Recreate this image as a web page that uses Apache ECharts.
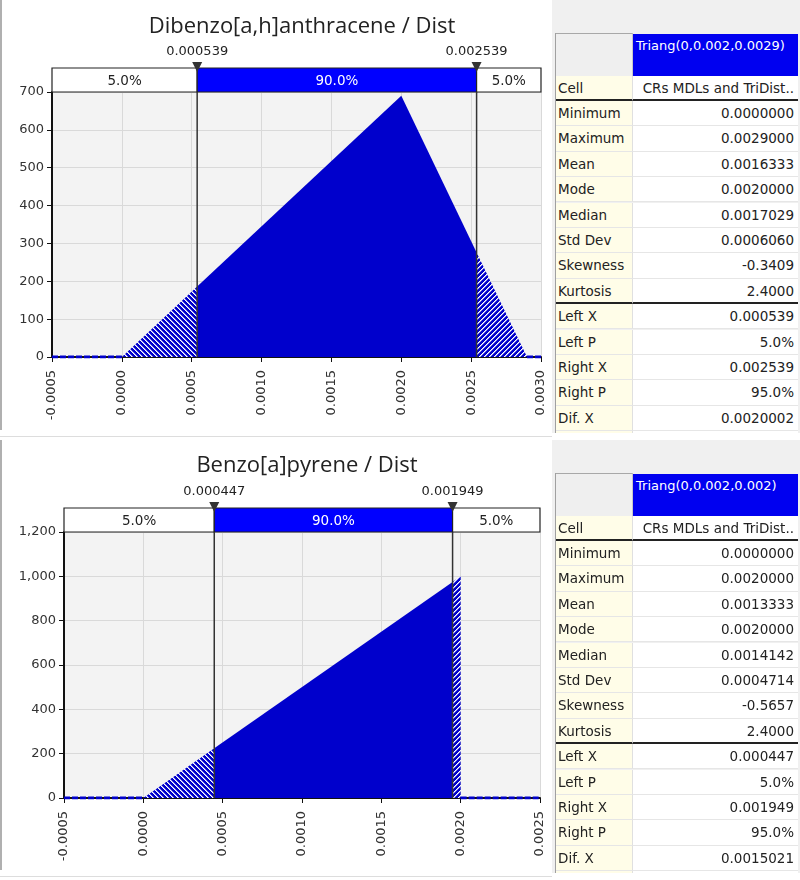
<!DOCTYPE html>
<html><head><meta charset="utf-8">
<script src="https://cdn.jsdelivr.net/npm/echarts@6/dist/echarts.min.js"></script>
<style>
body{margin:0;background:#fff;width:800px;height:880px;overflow:hidden;position:relative;font-family:'DejaVu Sans',sans-serif}
#chart{position:absolute;left:0;top:0;width:800px;height:880px}
.abs{position:absolute;box-sizing:border-box}
.cellL{background:#fffde8;color:#222;font-size:13.5px;padding-left:2px;white-space:nowrap;overflow:hidden}
.cellV{background:#fff;color:#222;font-size:13.5px;text-align:right;padding-right:4px;white-space:nowrap;overflow:hidden}
</style>
</head><body>
<div id="chart"></div>
<script>
// ---------------- data ----------------
const topTitle = 'Dibenzo[a,h]anthracene / Dist';
const topXRange = [-0.0005, 0.003];
const topXStep = 0.0005;
const topYRange = [0, 700];
const topYStep = 100;
const topShapeX = [0, 0.000539, 0.002, 0.002539, 0.0029];
const topShapeY = [0, 186, 690, 276, 0];
const topZeroSegs = [[-0.0005, 0], [0.0029, 0.003]];
const topLeftX = 0.000539;
const topRightX = 0.002539;
const topBandLabels = ['5.0%', '90.0%', '5.0%'];
const topHeader = 'Triang(0,0.002,0.0029)';
const topStatValues = ['CRs MDLs and TriDist..', '0.0000000', '0.0029000', '0.0016333', '0.0020000', '0.0017029', '0.0006060', '-0.3409', '2.4000', '0.000539', '5.0%', '0.002539', '95.0%', '0.0020002'];

const botTitle = 'Benzo[a]pyrene / Dist';
const botXRange = [-0.0005, 0.0025];
const botXStep = 0.0005;
const botYRange = [0, 1200];
const botYStep = 200;
const botShapeX = [0, 0.000447, 0.001949, 0.002, 0.002];
const botShapeY = [0, 224, 975, 1000, 0];
const botZeroSegs = [[-0.0005, 0], [0.002, 0.0025]];
const botLeftX = 0.000447;
const botRightX = 0.001949;
const botBandLabels = ['5.0%', '90.0%', '5.0%'];
const botHeader = 'Triang(0,0.002,0.002)';
const botStatValues = ['CRs MDLs and TriDist..', '0.0000000', '0.0020000', '0.0013333', '0.0020000', '0.0014142', '0.0004714', '-0.5657', '2.4000', '0.000447', '5.0%', '0.001949', '95.0%', '0.0015021'];

const statNames = ['Cell', 'Minimum', 'Maximum', 'Mean', 'Mode', 'Median', 'Std Dev', 'Skewness', 'Kurtosis', 'Left X', 'Left P', 'Right X', 'Right P', 'Dif. X'];

// ---------------- styles / layout ----------------
const FILL = '#0000cc';
const FONT = 'DejaVu Sans';
const TXT = '#333';

function hatch(dir) {
  const n = 5;
  const c = document.createElement('canvas');
  c.width = n; c.height = n;
  const g = c.getContext('2d');
  const img = g.createImageData(n, n);
  for (let y = 0; y < n; y++) for (let x = 0; x < n; x++) {
    const d = dir === 'back' ? ((x - y) % n + n) % n : (x + y) % n;
    let col = [0, 0, 204];
    if (d === 0) col = [255, 255, 255];
    else if (d === 1) col = [150, 150, 235];
    const i = (y * n + x) * 4;
    img.data[i] = col[0]; img.data[i + 1] = col[1]; img.data[i + 2] = col[2]; img.data[i + 3] = 255;
  }
  g.putImageData(img, 0, 0);
  return { image: c, repeat: 'repeat' };
}
const hatchBack = hatch('back');
const hatchFwd = hatch('fwd');

function pick(xs, ys, lo, hi) {
  const out = [];
  for (let i = 0; i < xs.length; i++) if (xs[i] >= lo - 1e-12 && xs[i] <= hi + 1e-12) out.push([xs[i], ys[i]]);
  return out;
}

const option = { animation: false, title: [], grid: [], xAxis: [], yAxis: [], series: [] };

function addPanel(cfg, L) {
  const gi = option.grid.length;
  option.grid.push({ left: L.left, top: L.plotTop, width: L.width, height: L.plotH, show: true,
    backgroundColor: '#f3f3f3', borderWidth: 0, outerBoundsMode: 'none' });
  option.grid.push({ left: L.left, top: L.bandTop, width: L.width, height: L.bandH, show: false, outerBoundsMode: 'none' });
  option.title.push({ text: cfg.title, left: L.titleX, top: L.titleTop, textAlign: 'center',
    textStyle: { fontFamily: 'Open Sans', fontSize: 22, fontWeight: 'normal', color: '#222' } });

  option.xAxis.push({ gridIndex: gi, type: 'value', min: cfg.xRange[0], max: cfg.xRange[1], interval: cfg.xStep,
    axisLine: { show: true, onZero: false, lineStyle: { color: '#111', width: 2 } },
    axisTick: { show: true, length: 5, lineStyle: { color: '#111', width: 1 } },
    axisLabel: { rotate: 90, margin: 13, fontFamily: FONT, fontSize: 13, color: TXT, formatter: v => v.toFixed(4) },
    splitLine: { show: true, lineStyle: { color: '#d9d9d9', width: 1 } } });
  option.yAxis.push({ gridIndex: gi, type: 'value', min: cfg.yRange[0], max: cfg.yRange[1], interval: cfg.yStep,
    axisLine: { show: true, onZero: false, lineStyle: { color: '#111', width: 2 } },
    axisTick: { show: true, length: 5, lineStyle: { color: '#111', width: 1 } },
    axisLabel: { margin: 8, fontFamily: FONT, fontSize: 13, color: TXT, formatter: v => v.toLocaleString('en-US') },
    splitLine: { show: true, lineStyle: { color: '#d9d9d9', width: 1 } } });
  option.xAxis.push({ gridIndex: gi + 1, type: 'value', min: cfg.xRange[0], max: cfg.xRange[1], show: false });
  option.yAxis.push({ gridIndex: gi + 1, type: 'value', min: 0, max: 1, show: false });

  const lo = cfg.shapeX[0], hi = cfg.shapeX[cfg.shapeX.length - 1];
  const areaSeries = (data, color) => ({
    type: 'line', xAxisIndex: gi, yAxisIndex: gi, data, symbol: 'none', silent: true, z: 2,
    lineStyle: { width: 0, opacity: 0 }, areaStyle: { color, opacity: 1 }
  });
  option.series.push(areaSeries(pick(cfg.shapeX, cfg.shapeY, lo, cfg.leftX), hatchBack));
  option.series.push(areaSeries(pick(cfg.shapeX, cfg.shapeY, cfg.leftX, cfg.rightX), FILL));
  option.series.push(areaSeries(pick(cfg.shapeX, cfg.shapeY, cfg.rightX, hi), hatchFwd));
  cfg.zeroSegs.forEach(s => option.series.push({
    type: 'line', xAxisIndex: gi, yAxisIndex: gi, symbol: 'none', silent: true, z: 3,
    data: [[s[0], 0], [s[1], 0]],
    lineStyle: { color: FILL, width: 3, type: [6, 2] }
  }));
  // vertical marker lines through plot
  option.series.push({ type: 'custom', xAxisIndex: gi, yAxisIndex: gi, silent: true, z: 5,
    data: [[cfg.leftX, 0], [cfg.rightX, 0]],
    renderItem(params, api) {
      const v = api.value(0);
      const a = api.coord([v, cfg.yRange[1]]);
      const b = api.coord([v, cfg.yRange[0]]);
      return { type: 'line', shape: { x1: a[0], y1: a[1], x2: b[0], y2: b[1] },
        style: { stroke: '#333', lineWidth: 1.5 } };
    } });

  // band (5% / 90% / 5%)
  const bandData = [[cfg.xRange[0], cfg.leftX], [cfg.leftX, cfg.rightX], [cfg.rightX, cfg.xRange[1]]];
  option.series.push({ type: 'custom', xAxisIndex: gi + 1, yAxisIndex: gi + 1, silent: true, z: 4,
    data: bandData,
    renderItem(params, api) {
      const idx = params.dataIndex;
      const p0 = api.coord([api.value(0), 1]);
      const p1 = api.coord([api.value(1), 0]);
      const mid = idx === 1;
      return { type: 'group', children: [
        { type: 'rect', shape: { x: p0[0], y: p0[1], width: p1[0] - p0[0], height: p1[1] - p0[1] },
          style: { fill: mid ? '#0000ff' : '#fff', stroke: '#222', lineWidth: 1.2 } },
        { type: 'text', style: { text: cfg.bandLabels[idx], x: (p0[0] + p1[0]) / 2, y: (p0[1] + p1[1]) / 2 + 1,
          align: 'center', verticalAlign: 'middle', fill: mid ? '#fff' : '#222', font: '13.5px "DejaVu Sans"' } }
      ] };
    } });
  // markers (triangles + value labels)
  option.series.push({ type: 'custom', xAxisIndex: gi + 1, yAxisIndex: gi + 1, silent: true, z: 6,
    data: [[cfg.leftX, 0], [cfg.rightX, 0]],
    renderItem(params, api) {
      const v = api.value(0);
      const p = api.coord([v, 1]);
      return { type: 'group', children: [
        { type: 'polygon', shape: { points: [[p[0] - 5, p[1] - 6], [p[0] + 5, p[1] - 6], [p[0], p[1] + 4]] },
          style: { fill: '#333' } },
        { type: 'text', style: { text: v.toFixed(6), x: p[0], y: p[1] - 10, align: 'center', verticalAlign: 'bottom',
          fill: '#222', font: '13px "DejaVu Sans"' } }
      ] };
    } });
}

addPanel({ title: topTitle, xRange: topXRange, xStep: topXStep, yRange: topYRange, yStep: topYStep,
  shapeX: topShapeX, shapeY: topShapeY, zeroSegs: topZeroSegs, leftX: topLeftX, rightX: topRightX, bandLabels: topBandLabels },
  { left: 52, width: 489, plotTop: 92, plotH: 265, bandTop: 68, bandH: 24, titleX: 297, titleTop: 11 });
addPanel({ title: botTitle, xRange: botXRange, xStep: botXStep, yRange: botYRange, yStep: botYStep,
  shapeX: botShapeX, shapeY: botShapeY, zeroSegs: botZeroSegs, leftX: botLeftX, rightX: botRightX, bandLabels: botBandLabels },
  { left: 64, width: 476, plotTop: 532, plotH: 266, bandTop: 508, bandH: 24, titleX: 302, titleTop: 450 });

const chart = echarts.init(document.getElementById('chart'), null, { renderer: 'canvas' });
chart.setOption(option);

// ---------------- stats tables ----------------
function div(css, text, cls) {
  const d = document.createElement('div');
  d.className = 'abs' + (cls ? ' ' + cls : '');
  Object.assign(d.style, css);
  if (text != null) d.textContent = text;
  document.body.appendChild(d);
  return d;
}
function makeTable(y0, header, values) {
  div({ left: '552px', top: y0 + 'px', width: '248px', height: '433px', background: '#f0f0f0' });
  div({ left: '556px', top: (y0 + 33) + 'px', width: '77px', height: '43px', background: '#efefef',
    borderTop: '1px solid #a8a8a8', borderRight: '1px solid #c8c8c8' });
  div({ left: '633px', top: (y0 + 34) + 'px', width: '165px', height: '42px', background: '#0000f0', color: '#fff',
    fontSize: '13px', padding: '4px 0 0 3px', whiteSpace: 'nowrap' }, header);
  const rh = 25.4, r0 = y0 + 75.5;
  const rows = statNames.length + 1;
  for (let i = 0; i < rows; i++) {
    const top = r0 + i * rh;
    const h = i < statNames.length ? rh : (y0 + 433 - top);
    const thick = (i === 0 || i === 8);
    const bb = thick ? '2px solid #222' : '1px solid #e6e6e6';
    div({ left: '556px', top: top + 'px', width: '77px', height: h + 'px', lineHeight: (rh - 1) + 'px',
      borderBottom: i < statNames.length ? bb : 'none', borderRight: '1px solid #e0e0e0' }, statNames[i] || '', 'cellL');
    div({ left: '633px', top: top + 'px', width: '165px', height: h + 'px', lineHeight: (rh - 1) + 'px',
      borderBottom: i < statNames.length ? bb : 'none' }, values[i] || '', 'cellV');
  }
  div({ left: '555px', top: (y0 + 33) + 'px', width: '1px', height: '400px', background: '#a0a0a0' });
}
makeTable(0, topHeader, topStatValues);
makeTable(440, botHeader, botStatValues);
div({ left: '0px', top: '0px', width: '2px', height: '430px', background: '#b0b0b0' });
div({ left: '0px', top: '440px', width: '2px', height: '430px', background: '#b0b0b0' });
div({ left: '0px', top: '436px', width: '552px', height: '1px', background: '#dddddd' });
div({ left: '0px', top: '876px', width: '552px', height: '1px', background: '#dddddd' });
</script>
</body></html>
